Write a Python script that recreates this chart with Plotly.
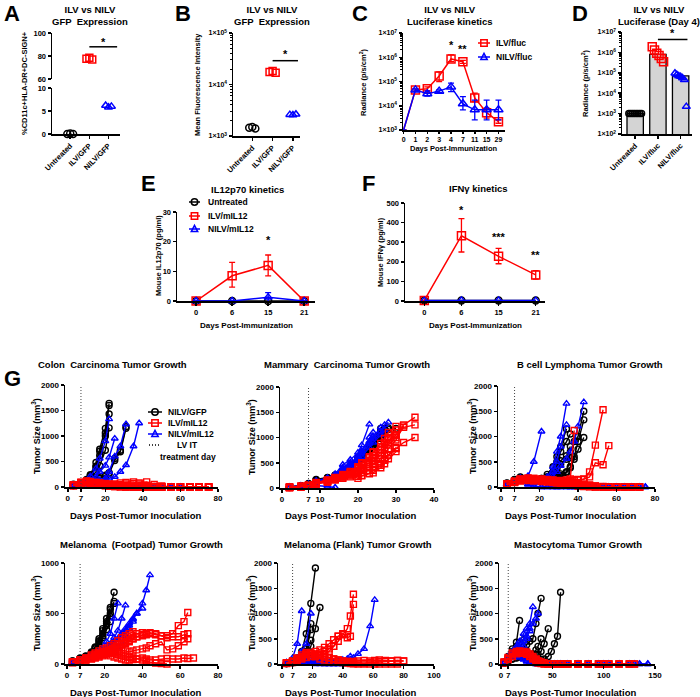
import plotly.graph_objects as go

W, H = 700, 697
FONT = "Liberation Sans, Arial, Helvetica, sans-serif"
BLACK, RED, BLUE = "#000000", "#ff0000", "#0000ff"

# ---------------- Data ----------------
A_GROUPS = ["Untreated", "ILV/GFP", "NILV/GFP"]
A_UNTREATED = [0.0, 0.1, 0.0]
A_ILV = [77.5, 78.5, 77.0]
A_NILV = [6.2, 5.8, 6.0]

B_GROUPS = ["Untreated", "ILV/GFP", "NILV/GFP"]
B_UNTREATED = [1450, 1500, 1400]
B_ILV = [17500, 18200, 17000]
B_NILV = [2600, 2550, 2650]

C_DAYS = ["0", "1", "2", "3", "4", "7", "11", "15", "29"]
C_ILV = [1000, 45000, 50000, 170000, 850000, 650000, 21000, 5200, 2200]
C_ILV_HI = [1000, 50000, 60000, 250000, 1260000, 750000, 33000, 7900, 2600]
C_ILV_LO = [1000, 40000, 42000, 98000, 660000, 560000, 15000, 3100, 1900]
C_NILV = [1000, 45000, 31000, 40000, 60000, 12000, 6800, 6800, 6800]
C_NILV_HI = [1000, 50000, 40000, 45000, 85000, 24000, 17000, 17000, 17000]
C_NILV_LO = [1000, 40000, 25000, 35000, 38000, 6800, 2600, 2600, 2600]

D_GROUPS = ["Untreated", "ILV/fluc", "NILV/fluc"]
D_MEANS = [1000, 800000, 70000]
D_UNTREATED = [1000, 1000, 1000, 1000, 1000, 1000, 1000, 1000]
D_ILV = [1900000, 1300000, 900000, 700000, 500000, 350000]
D_NILV = [95000, 80000, 70000, 65000, 55000, 45000, 2200]

E_DAYS = ["0", "6", "15", "21"]
E_UNTREATED = [0, 0, 0, 0]
E_ILV = [0, 8.5, 12.0, 0]
E_ILV_ERR_HI = [0, 4.5, 3.5, 0]
E_ILV_ERR_LO = [0, 3.8, 3.5, 0]
E_NILV = [0, 0, 1.3, 0]
E_NILV_ERR = [0, 0, 1.5, 0]

F_DAYS = ["0", "6", "15", "21"]
F_UNTREATED = [2, 2, 2, 2]
F_ILV = [3, 333, 228, 133]
F_ILV_ERR_HI = [0, 87, 40, 22]
F_ILV_ERR_LO = [0, 83, 38, 21]
F_NILV = [2, 3, 3, 2]

# Tumour growth (G); each inner list is one mouse, aligned with the panel's day list
COLON_DAYS = [3, 7, 10, 12, 15, 17, 20, 22, 25, 28, 31, 35, 38, 42, 46, 50, 55, 60, 65, 70, 75]
COLON_GFP = [
    [55, 85, 150, 240, 480, 740, 1150, 1640],
    [40, 75, 125, 210, 390, 620, 1060, 1600],
    [45, 80, 135, 220, 410, 700, 1000, 1430],
    [30, 65, 105, 160, 300, 420, 720, 1160],
    [35, 60, 90, 110, 150, 180, 230, 280, 560, 720, 1180],
    [30, 55, 80, 100, 130, 170, 210, 260, 520, 690, 1150],
]
COLON_NILV12 = [
    [30, 70, 120, 210, 360, 560, 900, 1330],
    [25, 55, 85, 120, 200, 300, 420, 580, 950],
    [20, 45, 60, 80, 100, 130, 170, 300, 600, 800, 1230],
    [25, 50, 70, 90, 110, 130, 150, 170, 200, 300, 430, 800, 1250],
    [30, 60, 80, 60, 40, 20, 10, 5, 0, 0, 0, 0, 0, 0, 0, 0, 0, 0],
    [25, 50, 60, 40, 30, 15, 5, 0, 0, 0, 0, 0, 0, 0, 0, 0, 0, 0],
]
COLON_ILV12 = [
    [40, 90, 110, 100, 80, 60, 50, 40, 30, 20, 10, 5, 0, 0, 0, 0, 0, 0, 0, 0, 0],
    [35, 80, 100, 90, 85, 70, 60, 50, 60, 80, 90, 100, 60, 30, 10, 0, 0, 0, 0, 0, 0],
    [30, 70, 90, 80, 70, 60, 50, 45, 40, 50, 60, 70, 80, 100, 50, 20, 0, 0, 0, 0, 0],
    [45, 95, 120, 110, 90, 70, 50, 30, 20, 10, 5, 0, 0, 0, 0, 0, 0, 0, 0, 0, 0],
    [30, 60, 80, 70, 50, 40, 30, 20, 10, 5, 0, 0, 0, 0, 0, 0, 0, 0, 0, 0, 0],
    [25, 70, 100, 90, 70, 50, 40, 35, 30, 25, 20, 15, 10, 5, 0, 0, 0, 0, 0, 0, 0],
    [40, 85, 110, 100, 90, 80, 70, 60, 40, 30, 20, 10, 0, 0, 0, 0, 0, 0, 0, 0, 0],
    [35, 75, 95, 85, 60, 40, 25, 15, 10, 5, 0, 0, 0, 0, 0, 0, 0, 0, 0, 0, 0],
]

MAMMARY_DAYS = [2, 5, 7, 9, 12, 14, 16, 18, 20, 21, 23, 24, 26, 27, 28, 30, 32, 35]
MAMMARY_GFP = [
    [20, 40, 80, 160, 200, 240, 320, 420, 580, 650, 780, 900, 1100],
    [15, 35, 70, 140, 190, 230, 300, 400, 530, 620, 760, 880, 1050, 1150],
    [20, 45, 90, 170, 210, 260, 340, 450, 600, 700, 850, 950, 1180],
    [10, 30, 60, 120, 170, 220, 290, 380, 500, 580, 720, 820, 980, 1080, 1190],
    [15, 40, 75, 150, 200, 250, 330, 430, 560, 640, 800, 920, 1120, 1180],
    [20, 40, 70, 130, 180, 230, 310, 410, 520, 600, 740, 850, 1000, 1100, 1160, 1180],
]
MAMMARY_NILV12 = [
    [20, 40, 70, 140, 200, 280, 460, 560, 700, 850, 1260],
    [15, 35, 65, 130, 190, 260, 400, 500, 620, 740, 1000, 1100],
    [15, 30, 60, 120, 180, 240, 360, 450, 560, 680, 880, 980, 1120, 1250, 1300],
    [10, 30, 50, 100, 150, 220, 330, 420, 520, 620, 800, 900, 1050, 1150],
    [20, 45, 80, 50, 30, 10],
    [10, 30, 60, 130, 190, 250, 380, 480, 600, 720, 920, 1020, 1200],
]
MAMMARY_ILV12 = [
    [15, 30, 50, 100, 150, 200, 250, 300, 350, 400, 500, 580, 700, 800, 900, 1050, 1250, 1400],
    [10, 30, 50, 90, 140, 180, 230, 280, 330, 380, 460, 540, 650, 750, 850, 1000, 1200, 1250],
    [15, 35, 55, 110, 160, 210, 270, 330, 420, 500, 620, 720, 880, 980, 1100, 1220],
    [10, 25, 45, 90, 130, 170, 220, 260, 310, 350, 420, 480, 580, 680, 780, 950, 1230],
    [15, 30, 50, 100, 140, 190, 250, 300, 380, 450, 550, 640, 760, 860, 950, 1050],
    [10, 25, 40, 80, 120, 160, 200, 240, 280, 300, 350, 400, 480, 550, 650, 780, 900, 1000],
    [15, 30, 55, 100, 150, 200, 260, 320, 400, 480, 600, 700, 820, 900, 1000, 1150],
    [10, 25, 45, 85, 120, 160, 190, 220, 230, 250, 280, 300, 400, 480, 580, 720],
    [12, 28, 50, 95, 140, 180, 220, 260, 190, 240, 290, 350, 450, 550, 650, 800],
]

BCELL_DAYS = [3, 7, 10, 14, 17, 21, 24, 27, 29, 31, 34, 36, 38, 40, 43, 46, 49, 53, 56, 60, 64, 68, 72, 75]
BCELL_GFP = [
    [80, 150, 200, 180, 150, 170, 250, 400, 600, 800, 1150],
    [70, 140, 180, 160, 140, 160, 200, 300, 500, 700, 900, 1050],
    [60, 120, 160, 140, 130, 140, 180, 250, 350, 450, 550, 700, 900, 1000, 1500],
    [60, 130, 170, 150, 140, 150, 170, 200, 220, 260, 300, 400, 600, 900, 1330],
    [50, 110, 150, 140, 130, 140, 160, 180, 200, 230, 280, 380, 550, 750, 980],
    [70, 140, 190, 170, 160, 170, 200, 260, 380, 520, 620, 800],
    [60, 120, 150, 140, 120, 130, 150, 170, 190, 200, 300, 580],
]
BCELL_NILV12 = [
    [60, 120, 180, 220, 500, 1100],
    [50, 110, 160, 120, 80, 100, 200, 400, 700, 1000, 1650],
    [50, 100, 150, 130, 100, 120, 180, 300, 500, 800, 1230],
    [40, 90, 130, 110, 80, 90, 120, 200, 300, 420, 560, 700, 900, 1200, 1680],
    [50, 100, 140, 60, 20, 0, 0, 0, 0, 0, 0, 0, 0, 0, 0, 0, 0, 0, 0, 0, 0, 0, 0, 0],
    [40, 90, 120, 50, 10, 0, 0, 0, 0, 0, 0, 0, 0, 0, 0, 0, 0, 0, 0, 0, 0, 0, 0, 0],
]
BCELL_ILV12 = [
    [60, 110, 150, 160, 170, 150, 140, 130, 120, 130, 140, 160, 1120],
    [50, 100, 140, 150, 150, 140, 130, 120, 110, 110, 120, 130, 140, 150, 160, 300, 830, 1530],
    [55, 105, 145, 150, 140, 130, 120, 110, 100, 100, 110, 120, 130, 140, 150, 200, 480, 440, 820],
    [60, 120, 160, 180, 170, 160, 150, 140, 120, 100, 80, 60, 40, 20, 10, 5, 0, 0, 0, 0, 0, 0, 0],
    [50, 100, 130, 150, 140, 130, 120, 110, 100, 90, 80, 70, 60, 50, 40, 30, 20, 10, 0, 0, 0, 0, 0],
    [40, 90, 120, 130, 120, 110, 100, 90, 80, 70, 60, 50, 40, 30, 20, 10, 0, 0, 0, 0, 0, 0, 0],
    [55, 110, 150, 170, 160, 150, 140, 130, 120, 110, 100, 90, 80, 70, 60, 40, 20, 0, 0, 0, 0, 0, 0],
]

FOOTPAD_DAYS = [3, 7, 10, 13, 15, 17, 19, 21, 23, 25, 27, 29, 31, 33, 35, 37, 40, 42, 44, 47, 50, 53, 56, 59, 62, 64, 67]
FOOTPAD_GFP = [
    [30, 60, 80, 120, 170, 250, 350, 450, 560, 710],
    [25, 50, 70, 110, 160, 220, 300, 400, 500, 620],
    [20, 45, 65, 100, 150, 200, 280, 380, 470, 600],
    [30, 55, 75, 115, 165, 230, 330, 420, 540],
    [20, 40, 60, 90, 130, 180, 260, 340, 420],
]
FOOTPAD_NILV12 = [
    [20, 40, 60, 80, 100, 130, 160, 220, 300, 450, 600],
    [15, 35, 55, 70, 90, 110, 130, 160, 200, 260, 330, 450, 580],
    [20, 35, 50, 70, 90, 110, 130, 150, 180, 210, 250, 300, 350, 400, 450, 500, 550],
    [15, 30, 45, 60, 80, 100, 120, 140, 170, 200, 240, 280, 330, 380, 440, 500, 600, 730, 880],
    [10, 25, 40, 50, 60, 70, 80, 90, 100, 120, 150, 200, 280, 350, 420],
]
FOOTPAD_ILV12 = [
    [20, 40, 60, 80, 100, 110, 120, 130, 140, 150, 170, 190, 210, 230, 250, 270, 290, 300, 310, 300, 280, 280, 300, 380, 420, 510],
    [20, 35, 50, 70, 90, 100, 110, 120, 130, 150, 170, 190, 200, 220, 250, 270, 280, 290, 300, 290, 280, 260, 270, 270, 290, 300],
    [15, 30, 45, 60, 70, 80, 90, 100, 110, 120, 130, 140, 130, 120, 130, 140, 150, 160, 180, 200, 220, 140, 150, 180, 220, 250],
    [15, 25, 40, 50, 60, 70, 80, 90, 80, 70, 60, 50, 40, 40, 45, 50, 60, 50, 40, 40, 50, 55, 50, 50, 60, 55, 60],
    [20, 40, 60, 90, 110, 130, 150, 160, 180, 200, 230, 260, 280, 300, 320, 300, 310],
    [15, 30, 40, 55, 70, 85, 100, 110, 120, 110, 100, 90, 80, 70, 60, 50, 40, 30, 20, 10, 5, 0],
]

FLANK_DAYS = [3, 7, 10, 13, 16, 19, 22, 25, 28, 31, 34, 37, 40, 43, 45, 47, 50, 54, 58, 61, 64, 68, 72, 76, 80]
FLANK_GFP = [
    [20, 60, 120, 250, 600, 1200, 1900],
    [15, 40, 80, 150, 300, 800],
    [15, 35, 70, 130, 250, 680],
    [10, 30, 60, 110, 200, 470],
    [10, 30, 50, 90, 150, 350, 700, 1120],
    [10, 25, 50, 80, 120, 230],
]
FLANK_NILV12 = [
    [30, 120, 400, 1050],
    [20, 50, 120, 250, 400, 1000],
    [20, 50, 80, 100, 90, 80, 60, 50, 40, 30, 40, 60, 80, 100, 150, 120, 200, 300, 750, 1270],
    [20, 40, 60, 50, 30, 10, 0, 0, 0, 0, 0, 0, 0, 0, 0],
    [15, 30, 50, 40, 30, 20, 10, 5, 0, 0, 0, 0],
]
FLANK_ILV12 = [
    [20, 60, 120, 180, 230, 200, 180, 200, 250, 300, 350, 450, 580, 700, 950, 1380],
    [15, 50, 100, 150, 200, 180, 150, 170, 200, 250, 350, 550, 600, 520, 550, 1180],
    [20, 50, 100, 150, 200, 220, 200, 180, 150, 120, 100, 80, 60, 50, 40, 30, 20, 20, 30, 40, 50, 50, 60, 70, 60],
    [15, 40, 80, 120, 180, 200, 150, 100, 80, 60, 50, 40, 30, 20, 10, 5, 0, 0, 0, 0, 0, 0, 0, 0],
    [20, 50, 90, 140, 190, 210, 250, 280, 330, 400, 480, 550],
    [10, 30, 60, 100, 130, 150, 170, 190, 160, 130, 100, 80, 60, 50, 40, 50, 60, 70, 60, 70, 80, 70, 60, 70, 60],
]

MASTO_DAYS = [3, 7, 11, 15, 18, 22, 25, 28, 31, 34, 36, 39, 42, 46, 49, 52, 55, 58, 65, 75, 85, 95, 100, 105, 115, 125, 130, 135, 143]
MASTO_GFP = [
    [40, 150, 300, 430, 860],
    [30, 120, 250, 350, 420, 480],
    [30, 100, 200, 250, 300, 350, 380, 450, 500, 800, 1000, 1300],
    [20, 80, 150, 180, 200, 220, 250, 180, 200, 280, 350, 500],
    [20, 60, 100, 120, 140, 150, 160, 170, 180, 190, 200, 250, 400, 700],
    [20, 60, 100, 130, 150, 160, 170, 180, 150, 120, 100, 90, 100, 150, 250, 400, 550, 1420],
]
MASTO_NILV12 = [
    [40, 150, 250, 350, 450, 600, 700, 800, 1130],
    [30, 120, 200, 280, 350, 450, 550, 650, 800, 900, 1000],
    [30, 100, 180, 250, 300, 350, 500, 700],
    [30, 100, 150, 180, 150, 100, 60, 30, 10, 0, 0, 0, 0, 0, 0, 0, 0, 0, 0, 0, 0, 0, 0, 0, 0, 0, 0, 0, 0],
    [20, 90, 140, 160, 130, 90, 50, 20, 5, 0, 0, 0, 0, 0, 0, 0, 0, 0, 0, 0, 0, 0, 0, 0, 0, 0, 0, 0, 0],
]
MASTO_ILV12 = [
    [40, 130, 220, 250, 260, 250, 240, 200, 150, 100, 60, 30, 10, 0, 0, 0, 0, 0, 0, 0, 0, 0, 0, 0, 0, 0, 0],
    [30, 120, 200, 230, 240, 230, 220, 180, 100, 50, 20, 10, 0, 0, 0, 0, 0, 0, 0, 0, 0, 0, 0],
    [35, 110, 180, 220, 230, 240, 200, 150, 120, 80, 40, 20, 10, 0, 0, 0, 0, 0, 0, 0, 0, 0, 0, 0, 0, 0],
    [20, 90, 150, 200, 220, 210, 190, 160, 120, 90, 60, 40, 20, 0, 0, 0, 0, 0, 0, 0, 0, 0, 0, 0, 0, 0, 0],
]

# ---------------- Helpers ----------------
fig = go.Figure()
layout = {}
annotations = []
shapes = []
DOT = "1px,2px"


def fx(p):
    return p / W


def fy(p):
    return 1 - p / H


def tfont(size=8, color=BLACK):
    return dict(family=FONT, size=size, color=color, weight="bold")


def sfx(n):
    return "" if n == 1 else str(n)


def axis(domain, anchor, **kw):
    d = dict(domain=domain, anchor=anchor, showline=True, linecolor=BLACK, linewidth=1.5,
             ticks="outside", ticklen=3, tickwidth=1.5, tickcolor=BLACK, showgrid=False,
             zeroline=False, tickfont=tfont(7.5), fixedrange=True, automargin=False)
    d.update(kw)
    return d


def panel(n, xpx, ypx, xkw, ykw):
    s = sfx(n)
    layout["xaxis" + s] = axis([fx(xpx[0]), fx(xpx[1])], "y" + s, **xkw)
    layout["yaxis" + s] = axis([fy(ypx[1]), fy(ypx[0])], "x" + s, **ykw)


def label(x, y, s, size=9, xanchor="center", angle=0):
    annotations.append(dict(x=fx(x), y=fy(y), xref="paper", yref="paper", text=s, showarrow=False,
                            xanchor=xanchor, yanchor="middle", textangle=angle, font=tfont(size)))


def data_label(n, x, y, s, size=11):
    s2 = sfx(n)
    annotations.append(dict(x=x, y=y, xref="x" + s2, yref="y" + s2, text=s, showarrow=False,
                            xanchor="center", yanchor="middle", font=tfont(size)))


def pts(n, x, y, color, symbol, size=7, mode="markers", width=1.5, **kw):
    s = sfx(n)
    fig.add_trace(go.Scatter(x=x, y=y, xaxis="x" + s, yaxis="y" + s, mode=mode,
                             marker=dict(symbol=symbol, size=size, color=color,
                                         line=dict(color=color, width=width)),
                             line=dict(color=color, width=width), showlegend=False,
                             cliponaxis=False, hoverinfo="skip", **kw))


def spread(i, n, w):
    if n == 1:
        return [i]
    return [i - w + 2 * w * k / (n - 1) for k in range(n)]


def sig_line(n, x0, x1, y):
    s = sfx(n)
    shapes.append(dict(type="line", xref="x" + s, yref="y" + s, x0=x0, x1=x1, y0=y, y1=y,
                       line=dict(color=BLACK, width=1.5)))


def legend_item(x0, x1, y, color, symbol, text, tx, r=3.2, dotted=False):
    shapes.append(dict(type="line", xref="paper", yref="paper", x0=fx(x0), x1=fx(x1), y0=fy(y), y1=fy(y),
                       line=dict(color=color, width=1.5, dash=DOT if dotted else "solid")))
    cx = (x0 + x1) / 2
    lw = dict(color=color, width=1.5)
    if symbol == "circle":
        shapes.append(dict(type="circle", xref="paper", yref="paper", x0=fx(cx - r), x1=fx(cx + r),
                           y0=fy(y + r), y1=fy(y - r), line=lw))
    elif symbol == "square":
        shapes.append(dict(type="rect", xref="paper", yref="paper", x0=fx(cx - r), x1=fx(cx + r),
                           y0=fy(y + r), y1=fy(y - r), line=lw))
    elif symbol == "triangle":
        path = "M %f,%f L %f,%f L %f,%f Z" % (fx(cx - r), fy(y + r * 0.8), fx(cx + r), fy(y + r * 0.8),
                                               fx(cx), fy(y - r * 1.1))
        shapes.append(dict(type="path", xref="paper", yref="paper", path=path, line=lw))
    if text:
        label(tx, y, text, size=8.5, xanchor="left")


def sup(e):
    return "1×10<sup>%d</sup>" % e


LOG_MINOR = dict(ticks="outside", ticklen=2, tickwidth=1, tickcolor=BLACK, dtick="D1", showgrid=False)

# ---------------- Panel A (broken axis) ----------------
panel(1, (52, 120), (33, 79), dict(range=[-0.95, 2.6], showline=False, ticks="", showticklabels=False),
      dict(range=[60, 100], tickvals=[60, 80, 100]))
panel(2, (52, 120), (88, 134), dict(range=[-0.95, 2.6], tickvals=[0, 1, 2], ticktext=A_GROUPS, tickangle=-45),
      dict(range=[0, 10], tickvals=[0, 5, 10]))
pts(2, spread(0, len(A_UNTREATED), 0.15), A_UNTREATED, BLACK, "circle-open")
pts(1, spread(1, len(A_ILV), 0.15), A_ILV, RED, "square-open")
pts(2, spread(2, len(A_NILV), 0.15), A_NILV, BLUE, "triangle-up-open")
sig_line(1, 1, 2.45, 88)
data_label(1, 1.72, 92.5, "*")

# ---------------- Panel B ----------------
panel(3, (233, 300), (33, 136), dict(range=[-0.95, 2.35], tickvals=[0, 1, 2], ticktext=B_GROUPS, tickangle=-45),
      dict(type="log", range=[3, 5], tickvals=[1e3, 1e4, 1e5], ticktext=[sup(3), sup(4), sup(5)],
           minor=LOG_MINOR, tickfont=tfont(7)))
pts(3, spread(0, 3, 0.15), B_UNTREATED, BLACK, "circle-open")
pts(3, spread(1, 3, 0.15), B_ILV, RED, "square-open")
pts(3, spread(2, 3, 0.15), B_NILV, BLUE, "triangle-up-open")
sig_line(3, 1, 2.25, 29000)
data_label(3, 1.62, 4.6, "*")

# ---------------- Panel C ----------------
panel(4, (403, 505), (33, 130), dict(range=[-0.05, 8.55], tickvals=list(range(len(C_DAYS))), ticktext=C_DAYS,
                                     ticklen=2, tickfont=tfont(7)),
      dict(type="log", range=[3, 7], tickvals=[1e3, 1e4, 1e5, 1e6, 1e7],
           ticktext=[sup(3), sup(4), sup(5), sup(6), sup(7)], minor=LOG_MINOR, tickfont=tfont(7)))
cx = list(range(len(C_DAYS)))
pts(4, cx, C_ILV, RED, "square-open", size=8, mode="lines+markers",
    error_y=dict(type="data", symmetric=False, array=[h - v for h, v in zip(C_ILV_HI, C_ILV)],
                 arrayminus=[v - l for v, l in zip(C_ILV, C_ILV_LO)], color=RED, thickness=1.3, width=3))
pts(4, cx, C_NILV, BLUE, "triangle-up-open", size=8, mode="lines+markers",
    error_y=dict(type="data", symmetric=False, array=[h - v for h, v in zip(C_NILV_HI, C_NILV)],
                 arrayminus=[v - l for v, l in zip(C_NILV, C_NILV_LO)], color=BLUE, thickness=1.3, width=3))
data_label(4, 4, 6.52, "*")
data_label(4, 5, 6.32, "**")
legend_item(478, 490, 43, RED, "square", "ILV/fluc", 494)
legend_item(478, 490, 57, BLUE, "triangle", "NILV/fluc", 494)

# ---------------- Panel D ----------------
panel(5, (622, 692), (32, 134), dict(range=[-0.58, 2.5], tickvals=[0, 1, 2], ticktext=D_GROUPS, tickangle=-45),
      dict(type="log", range=[2, 7], tickvals=[1e2, 1e3, 1e4, 1e5, 1e6, 1e7],
           ticktext=[sup(2), sup(3), sup(4), sup(5), sup(6), sup(7)], minor=LOG_MINOR, tickfont=tfont(7)))
fig.add_trace(go.Bar(x=[0, 1, 2], y=D_MEANS, xaxis="x5", yaxis="y5", width=0.72,
                     marker=dict(color="#d4d4d4", line=dict(color=BLACK, width=1.3)),
                     showlegend=False, hoverinfo="skip"))
pts(5, spread(0, len(D_UNTREATED), 0.28), D_UNTREATED, BLACK, "circle-open", size=6)
pts(5, spread(1, len(D_ILV), 0.25), D_ILV, RED, "square-open", size=8)
pts(5, spread(2, len(D_NILV), 0.25), D_NILV, BLUE, "triangle-up-open", size=7)
sig_line(5, 1, 2.3, 4300000)
data_label(5, 1.62, 6.95, "*")

# ---------------- Panel E ----------------
panel(6, (177, 315), (212, 301), dict(range=[-0.53, 3.3], tickvals=[0, 1, 2, 3], ticktext=E_DAYS),
      dict(range=[0, 30], tickvals=[0, 10, 20, 30]))
ex = [0, 1, 2, 3]
pts(6, ex, E_UNTREATED, BLACK, "circle-open", size=7, mode="lines+markers")
pts(6, ex, E_ILV, RED, "square-open", size=8, mode="lines+markers",
    error_y=dict(type="data", symmetric=False, array=E_ILV_ERR_HI, arrayminus=E_ILV_ERR_LO,
                 color=RED, thickness=1.3, width=3))
pts(6, ex, E_NILV, BLUE, "triangle-up-open", size=7, mode="lines+markers",
    error_y=dict(type="data", array=E_NILV_ERR, color=BLUE, thickness=1.3, width=3))
data_label(6, 2, 20.5, "*")
legend_item(189, 200, 202, BLACK, "circle", "Untreated", 206)
legend_item(189, 200, 216, RED, "square", "ILV/mIL12", 206)
legend_item(189, 200, 229, BLUE, "triangle", "NILV/mIL12", 206)

# ---------------- Panel F ----------------
panel(7, (405, 545), (203, 301), dict(range=[-0.52, 3.25], tickvals=[0, 1, 2, 3], ticktext=F_DAYS),
      dict(range=[0, 500], tickvals=[0, 100, 200, 300, 400, 500]))
pts(7, ex, F_UNTREATED, BLACK, "circle-open", size=7, mode="lines+markers")
pts(7, ex, F_ILV, RED, "square-open", size=8, mode="lines+markers",
    error_y=dict(type="data", symmetric=False, array=F_ILV_ERR_HI, arrayminus=F_ILV_ERR_LO,
                 color=RED, thickness=1.3, width=3))
pts(7, ex, F_NILV, BLUE, "triangle-up-open", size=7, mode="lines+markers")
data_label(7, 1, 462, "*")
data_label(7, 2, 325, "***")
data_label(7, 3, 235, "**")

# ---------------- Panel G ----------------
G_SPECS = [
    (8, (65, 218), (385, 487), [-1.5, 80], [0, 7, 20, 40, 60, 80], [0, 2000], [0, 500, 1000, 1500, 2000],
     COLON_DAYS, COLON_GFP, COLON_NILV12, COLON_ILV12),
    (9, (280, 434), (387, 488), [-0.5, 40], [0, 7, 10, 20, 30, 40], [0, 2000], [0, 500, 1000, 1500, 2000],
     MAMMARY_DAYS, MAMMARY_GFP, MAMMARY_NILV12, MAMMARY_ILV12),
    (10, (498, 655), (386, 487), [-1.6, 80], [0, 7, 20, 40, 60, 80], [0, 2000], [0, 500, 1000, 1500, 2000],
     BCELL_DAYS, BCELL_GFP, BCELL_NILV12, BCELL_ILV12),
    (11, (65, 218), (563, 664), [-1, 80], [0, 7, 20, 40, 60, 80], [0, 1000], [0, 500, 1000],
     FOOTPAD_DAYS, FOOTPAD_GFP, FOOTPAD_NILV12, FOOTPAD_ILV12),
    (12, (278, 434), (563, 664), [-2.6, 100], [0, 7, 20, 40, 60, 80, 100], [0, 2000], [0, 500, 1000, 1500, 2000],
     FLANK_DAYS, FLANK_GFP, FLANK_NILV12, FLANK_ILV12),
    (13, (499, 655), (563, 664), [-2, 150], [0, 7, 50, 100, 150], [0, 2000], [0, 500, 1000, 1500, 2000],
     MASTO_DAYS, MASTO_GFP, MASTO_NILV12, MASTO_ILV12),
]
for n, xpx, ypx, xr, xt, yr, yt, days, gfp, nilv, ilv in G_SPECS:
    panel(n, xpx, ypx, dict(range=xr, tickvals=xt, tickfont=tfont(8)),
          dict(range=yr, tickvals=yt, tickfont=tfont(8)))
    s = sfx(n)
    shapes.append(dict(type="line", xref="x" + s, yref="y" + s + " domain", x0=7, x1=7, y0=0, y1=1,
                       line=dict(color="#444444", width=1, dash=DOT)))
    for group, color, sym in ((gfp, BLACK, "circle-open"), (nilv, BLUE, "triangle-up-open"),
                              (ilv, RED, "square-open")):
        for mouse in group:
            pts(n, days[:len(mouse)], mouse, color, sym, size=6, mode="lines+markers", width=1.4)

legend_item(148, 162, 412, BLACK, "circle", "NILV/GFP", 166)
legend_item(148, 162, 423, RED, "square", "ILV/mIL12", 166)
legend_item(148, 162, 434, BLUE, "triangle", "NILV/mIL12", 166)
legend_item(149, 161, 445, BLACK, None, "", 0, dotted=True)
label(187, 445, "LV IT", size=8.5)
label(188, 457, "treatment day", size=8.5)

# ---------------- Titles and axis labels ----------------
for letter, x, y in (("A", 12, 13), ("B", 183, 13), ("C", 360, 13), ("D", 580, 13),
                     ("E", 148, 183), ("F", 368, 183), ("G", 12, 379)):
    label(x, y, letter, size=22)

label(90, 16, "ILV vs NILV<br>GFP  Expression", size=9.5)
label(272, 16, "ILV vs NILV<br>GFP  Expression", size=9.5)
label(450, 16, "ILV vs NILV<br>Luciferase kinetics", size=9.5)
label(659, 16, "ILV vs NILV<br>Luciferase (Day 4)", size=9.5)
label(247, 189, "IL12p70 kinetics", size=9.5)
label(478, 188, "IFNγ kinetics", size=9.5)

label(24, 83, "%CD11c+HLA-DR+DC-SIGN+", size=7.5, angle=-90)
label(197, 85, "Mean Fluorescence Intensity", size=7.5, angle=-90)
label(363, 82, "Radiance (p/s/cm<sup>2</sup>)", size=7.5, angle=-90)
label(585, 83, "Radiance (p/s/cm<sup>2</sup>)", size=7.5, angle=-90)
label(158, 256, "Mouse IL12p70 (pg/ml)", size=7.5, angle=-90)
label(380, 252, "Mouse IFNγ (pg/ml)", size=7.5, angle=-90)
label(454, 148, "Days Post-Immunization", size=7.5)
label(246, 325, "Days Post-Immunization", size=8)
label(475, 325, "Days Post-Immunization", size=8)

for x, y, t in ((112, 364, "Colon  Carcinoma Tumor Growth"), (347, 364, "Mammary  Carcinoma Tumor Growth"),
                (590, 364, "B cell Lymphoma Tumor Growth"), (141, 544, "Melanoma  (Footpad) Tumor Growth"),
                (358, 544, "Melanoma (Flank) Tumor Growth"), (578, 544, "Mastocytoma Tumor Growth")):
    label(x, y, t, size=9.5)
for x, y in ((135, 515), (350, 515), (570, 515), (135, 692), (350, 692), (570, 692)):
    label(x, y, "Days Post-Tumor Inoculation", size=9.5)
for x, y in ((36, 436), (251, 437), (472, 436), (36, 613), (251, 613), (472, 613)):
    label(x, y, "Tumor Size (mm<sup>3</sup>)", size=9, angle=-90)

fig.update_layout(width=W, height=H, margin=dict(l=0, r=0, t=0, b=0, pad=0, autoexpand=False),
                  plot_bgcolor="white", paper_bgcolor="white", showlegend=False,
                  font=dict(family=FONT, color=BLACK),
                  annotations=annotations, shapes=shapes, bargap=0.3, **layout)
fig.write_html("out.html", config={"displayModeBar": False, "staticPlot": True},
               post_script="document.body.style.margin='0';")
